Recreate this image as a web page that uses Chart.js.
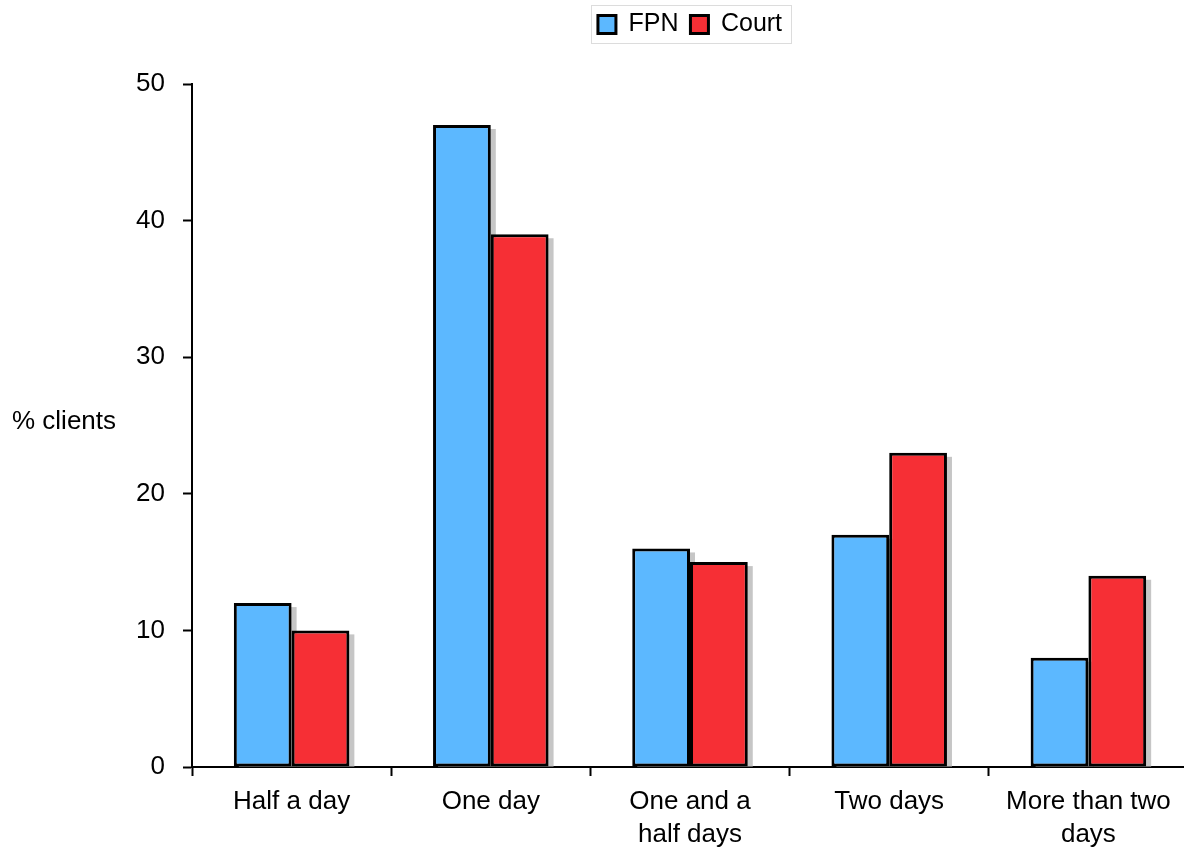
<!DOCTYPE html>
<html>
<head>
<meta charset="utf-8">
<script src="https://cdn.jsdelivr.net/npm/chart.js@4.4.1/dist/chart.umd.min.js"></script>
<style>
  html, body { margin: 0; padding: 0; background: #ffffff; overflow: hidden; }
  #wrap { position: relative; width: 1188px; height: 848px; }
</style>
</head>
<body>
<div id="wrap"><canvas id="chart"></canvas></div>
<script>
// Time taken, by category, as % of clients
const categories = [
  'Half a day',
  'One day',
  ['One and a', 'half days'],
  'Two days',
  ['More than two', 'days']
];
const fpnValues = [12, 47, 16, 17, 8];
const courtValues = [10, 39, 15, 23, 14];
const yTicks = [0, 10, 20, 30, 40, 50];
const yAxisTitle = '% clients';

const FONT = '"Liberation Sans", Arial, Helvetica, sans-serif';

// Grey drop shadow behind each bar, offset right and down
const barShadow = {
  id: 'barShadow',
  beforeDatasetsDraw(chart) {
    const ctx = chart.ctx;
    ctx.save();
    ctx.fillStyle = '#c6c6c6';
    chart.data.datasets.forEach((ds, i) => {
      const meta = chart.getDatasetMeta(i);
      meta.data.forEach(bar => {
        const p = bar.getProps(['x', 'y', 'base', 'width'], true);
        const left = p.x - p.width / 2 + 5;
        const top = p.y + 4;
        ctx.fillRect(left, top, p.width, p.base - top);
      });
    });
    ctx.restore();
  }
};

// Leave extra room below the legend before the plot starts
const legendSpace = {
  id: 'legendSpace',
  afterInit(chart) {
    const legend = chart.legend;
    const fit = legend.fit.bind(legend);
    legend.fit = function () {
      fit();
      this.height = 84;
    };
  }
};

// Horizontal y-axis caption and a frame around the legend
const extras = {
  id: 'extras',
  afterDraw(chart) {
    const ctx = chart.ctx;
    ctx.save();
    ctx.font = '26px ' + FONT;
    ctx.fillStyle = '#000';
    ctx.textAlign = 'left';
    ctx.textBaseline = 'middle';
    ctx.fillText(yAxisTitle, 12, 422);

    const boxes = chart.legend.legendHitBoxes;
    if (boxes && boxes.length) {
      const l = boxes[0].left - 7;
      const last = boxes[boxes.length - 1];
      const r = last.left + last.width + 9;
      ctx.strokeStyle = '#dcdcdc';
      ctx.lineWidth = 1;
      ctx.strokeRect(Math.round(l) + 0.5, 5.5, Math.round(r - l), 38);
    }
    ctx.restore();
  }
};

new Chart(document.getElementById('chart'), {
  type: 'bar',
  data: {
    labels: categories,
    datasets: [
      {
        label: 'FPN',
        data: fpnValues,
        backgroundColor: '#5cb8ff',
        borderColor: '#000000',
        borderWidth: 3,
        borderSkipped: false
      },
      {
        label: 'Court',
        data: courtValues,
        backgroundColor: '#f62f35',
        borderColor: '#000000',
        borderWidth: 3,
        borderSkipped: false
      }
    ]
  },
  options: {
    responsive: true,
    maintainAspectRatio: false,
    animation: false,
    datasets: {
      bar: { categoryPercentage: 0.58, barPercentage: 1.0 }
    },
    layout: { padding: { top: 0, right: 0, bottom: 0, left: 0 } },
    plugins: {
      legend: {
        position: 'top',
        fullSize: false,
        labels: {
          color: '#000',
          font: { family: FONT, size: 25 },
          boxWidth: 18,
          boxHeight: 18,
          padding: 12
        }
      },
      tooltip: { enabled: false }
    },
    scales: {
      x: {
        afterFit(scale) { scale.height = 81; },
        grid: {
          display: true,
          drawOnChartArea: false,
          drawTicks: true,
          tickLength: 9,
          tickWidth: 2,
          tickColor: '#000',
          offset: true
        },
        border: { display: true, color: '#000', width: 2 },
        ticks: {
          color: '#000',
          font: { family: FONT, size: 26, lineHeight: 1.27 },
          padding: 9,
          maxRotation: 0,
          autoSkip: false
        }
      },
      y: {
        min: yTicks[0],
        max: yTicks[yTicks.length - 1],
        afterFit(scale) { scale.width = 192; },
        afterBuildTicks(scale) { scale.ticks = yTicks.map(v => ({ value: v })); },
        grid: {
          display: true,
          drawOnChartArea: false,
          drawTicks: true,
          tickLength: 9,
          tickWidth: 2,
          tickColor: '#000'
        },
        border: { display: true, color: '#000', width: 2 },
        ticks: {
          color: '#000',
          font: { family: FONT, size: 26 },
          padding: 18
        }
      }
    }
  },
  plugins: [barShadow, legendSpace, extras]
});
</script>
</body>
</html>
